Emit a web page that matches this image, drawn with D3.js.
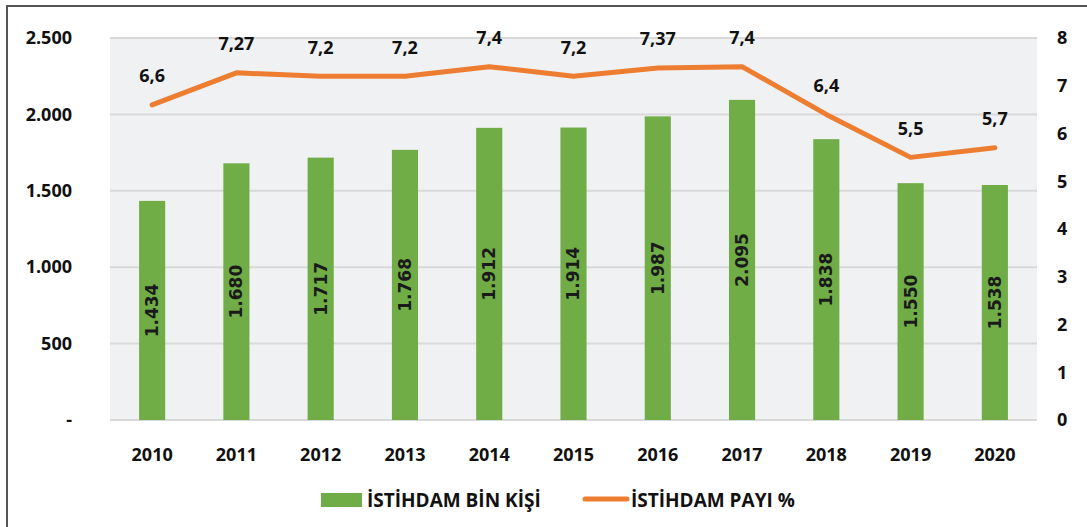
<!DOCTYPE html>
<html>
<head>
<meta charset="utf-8">
<script src="https://cdn.jsdelivr.net/npm/d3@7"></script>
<style>
  body { margin: 0; background: #fff; }
  text { font-family: "Liberation Sans Narrow", "Open Sans", sans-serif; }
</style>
</head>
<body>
<div class="chart"></div>
<script>
// data
const years = ['2010', '2011', '2012', '2013', '2014', '2015', '2016', '2017', '2018', '2019', '2020'];
const employment = [1434, 1680, 1717, 1768, 1912, 1914, 1987, 2095, 1838, 1550, 1538];
const share = [6.6, 7.27, 7.2, 7.2, 7.4, 7.2, 7.37, 7.4, 6.4, 5.5, 5.7];
const leftTicks = [0, 500, 1000, 1500, 2000, 2500];
const rightTicks = [0, 1, 2, 3, 4, 5, 6, 7, 8];
const legendNames = ['İSTİHDAM BİN KİŞİ', 'İSTİHDAM PAYI %'];

const W = 1087, H = 527;
const margin = {top: 38, right: 50, bottom: 107, left: 110};
const width = W - margin.left - margin.right;
const height = H - margin.top - margin.bottom;

const fmt = v => v === 0 ? '-' : d3.format(',')(v).replace(/,/g, '.');
const fmtC = v => String(v).replace('.', ',');

const svg = d3.select('.chart').append('svg')
    .attr('width', W)
    .attr('height', H);

// outer frame
svg.append('rect')
    .attr('x', 7).attr('y', 6)
    .attr('width', W + 10).attr('height', H + 10)
    .attr('fill', 'none')
    .attr('stroke', '#555')
    .attr('stroke-width', 2);

const g = svg.append('g')
    .attr('transform', 'translate(' + margin.left + ',' + margin.top + ')');

g.append('rect')
    .attr('width', width).attr('height', height)
    .attr('fill', '#f0f1f3');

const x = d3.scaleBand().domain(years).range([0, width]).paddingInner(0.69).paddingOuter(0.345);
const y = d3.scaleLinear().domain([0, 2500]).range([height, 0]);
const y2 = d3.scaleLinear().domain([0, 8]).range([height, 0]);

// gridlines
g.append('g')
    .selectAll('line')
    .data(leftTicks)
    .join('line')
    .attr('x1', 0).attr('x2', width)
    .attr('y1', d => y(d)).attr('y2', d => y(d))
    .attr('stroke', '#d9d9d9')
    .attr('stroke-width', 2);

// left axis
const yAxis = g.append('g')
    .call(d3.axisLeft(y).tickValues(leftTicks).tickFormat(fmt).tickSize(0).tickPadding(38));
yAxis.select('.domain').remove();
yAxis.selectAll('text')
    .attr('font-size', 18).attr('font-weight', 'bold').attr('fill', '#111');

// right axis
const y2Axis = g.append('g')
    .attr('transform', 'translate(' + width + ',0)')
    .call(d3.axisRight(y2).tickValues(rightTicks).tickSize(0).tickPadding(20));
y2Axis.select('.domain').remove();
y2Axis.selectAll('text')
    .attr('font-size', 18).attr('font-weight', 'bold').attr('fill', '#111');

// x axis
const xAxis = g.append('g')
    .attr('transform', 'translate(0,' + height + ')')
    .call(d3.axisBottom(x).tickSize(0).tickPadding(28));
xAxis.select('.domain').remove();
xAxis.selectAll('text')
    .attr('font-size', 18).attr('font-weight', 'bold').attr('fill', '#111');

// bars
g.selectAll('.bar')
    .data(employment)
    .join('rect')
    .attr('class', 'bar')
    .attr('x', (d, i) => x(years[i]))
    .attr('y', d => y(d))
    .attr('width', x.bandwidth())
    .attr('height', d => height - y(d))
    .attr('fill', '#70ad47');

// bar labels
g.selectAll('.blabel')
    .data(employment)
    .join('text')
    .attr('class', 'blabel')
    .attr('transform', (d, i) => 'translate(' + (x(years[i]) + x.bandwidth() / 2) + ',' + ((y(d) + height) / 2) + ') rotate(-90)')
    .attr('text-anchor', 'middle')
    .attr('dy', '0.35em')
    .attr('font-family', 'DejaVu Sans, sans-serif')
    .attr('font-size', 17)
    .attr('font-weight', 'bold')
    .attr('fill', '#1a1a1a')
    .style('font-family', 'DejaVu Sans, sans-serif')
    .text(fmt);

// line
const cx = i => x(years[i]) + x.bandwidth() / 2;
g.append('path')
    .datum(share)
    .attr('fill', 'none')
    .attr('stroke', '#ed7d31')
    .attr('stroke-width', 5)
    .attr('stroke-linejoin', 'round')
    .attr('stroke-linecap', 'round')
    .attr('d', d3.line().x((d, i) => cx(i)).y(d => y2(d)));

g.selectAll('.llabel')
    .data(share)
    .join('text')
    .attr('class', 'llabel')
    .attr('x', (d, i) => cx(i))
    .attr('y', d => y2(d) - 29)
    .attr('text-anchor', 'middle')
    .attr('dy', '0.35em')
    .attr('font-size', 18)
    .attr('font-weight', 'bold')
    .attr('fill', '#111')
    .text(fmtC);

// legend
const lg = svg.append('g');
lg.append('rect')
    .attr('x', 321).attr('y', 493)
    .attr('width', 41).attr('height', 14)
    .attr('fill', '#70ad47');
lg.append('text')
    .attr('x', 367).attr('y', 500).attr('dy', '0.35em')
    .attr('font-size', 19).attr('font-weight', 'bold').attr('fill', '#111')
    .text(legendNames[0]);
lg.append('line')
    .attr('x1', 585).attr('x2', 627)
    .attr('y1', 499).attr('y2', 499)
    .attr('stroke', '#ed7d31').attr('stroke-width', 5)
    .attr('stroke-linecap', 'round');
lg.append('text')
    .attr('x', 631).attr('y', 500).attr('dy', '0.35em')
    .attr('font-size', 19).attr('font-weight', 'bold').attr('fill', '#111')
    .text(legendNames[1]);
</script>
</body>
</html>
